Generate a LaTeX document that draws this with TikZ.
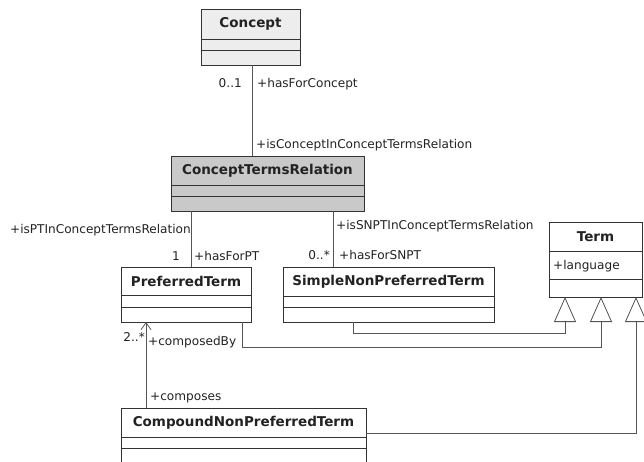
\documentclass[tikz,border=0pt]{standalone}
\usepackage{fontspec}
\setmainfont{DejaVu Sans}
\usetikzlibrary{arrows.meta,calc}
\definecolor{boxc}{HTML}{333333}
\definecolor{linec}{HTML}{555555}
\definecolor{txt}{HTML}{222222}
\definecolor{fillA}{HTML}{EDEDED}
\definecolor{fillB}{HTML}{C9C9C9}
\begin{document}
\begin{tikzpicture}[x=1pt,y=-1pt,
  cls/.style={draw=boxc, line width=0.9pt, anchor=north west, inner sep=0pt, outer sep=0pt},
  ttl/.style={font=\fontsize{13.5}{15}\selectfont\bfseries, text=txt, inner sep=0pt},
  lbl/.style={font=\fontsize{12.1}{13}\selectfont, text=txt, inner sep=0pt},
  sep/.style={draw=boxc, line width=0.9pt},
  conn/.style={draw=linec, line width=0.8pt},
  gen/.style={conn, -{Triangle[open, length=25pt, width=22pt, line width=0.8pt]}},
  nav/.style={conn, -{Straight Barb[length=7pt, width=10pt, line width=0.8pt]}}]
\useasboundingbox (0,0) rectangle (644,461);
\clip (0,0) rectangle (644,461);

% Concept
\node[cls, fill=fillA, minimum width=99pt, minimum height=56pt] (concept) at (201,9) {};
\draw[sep] ($(concept.north west)+(0,30)$) -- ($(concept.north east)+(0,30)$);
\draw[sep] ($(concept.north west)+(0,41)$) -- ($(concept.north east)+(0,41)$);
\node[ttl] (conceptT) at ($(concept.north)+(0,15)$) {Concept};

% ConceptTermsRelation
\node[cls, fill=fillB, minimum width=193pt, minimum height=55pt] (ctr) at (171,156) {};
\draw[sep] ($(ctr.north west)+(0,29)$) -- ($(ctr.north east)+(0,29)$);
\draw[sep] ($(ctr.north west)+(0,40)$) -- ($(ctr.north east)+(0,40)$);
\node[ttl] (ctrT) at ($(ctr.north)+(0,14.5)$) {ConceptTermsRelation};

% PreferredTerm
\node[cls, fill=white, minimum width=130pt, minimum height=55pt] (pt) at (121,267) {};
\draw[sep] ($(pt.north west)+(0,28)$) -- ($(pt.north east)+(0,28)$);
\draw[sep] ($(pt.north west)+(0,40)$) -- ($(pt.north east)+(0,40)$);
\node[ttl] (ptT) at ($(pt.north)+(0,14)$) {PreferredTerm};

% SimpleNonPreferredTerm
\node[cls, fill=white, minimum width=211pt, minimum height=55pt] (snpt) at (283,267) {};
\draw[sep] ($(snpt.north west)+(0,29)$) -- ($(snpt.north east)+(0,29)$);
\draw[sep] ($(snpt.north west)+(0,40)$) -- ($(snpt.north east)+(0,40)$);
\node[ttl] (snptT) at ($(snpt.north)+(0,14.5)$) {SimpleNonPreferredTerm};

% Term
\node[cls, fill=white, minimum width=93pt, minimum height=75pt] (term) at (549,222) {};
\draw[sep] ($(term.north west)+(0,29)$) -- ($(term.north east)+(0,29)$);
\draw[sep] ($(term.north west)+(0,57)$) -- ($(term.north east)+(0,57)$);
\node[ttl] (termT) at ($(term.north)+(0,14.5)$) {Term};
\node[lbl, anchor=base west] (lang) at (553,269) {+language};

% CompoundNonPreferredTerm
\node[cls, fill=white, minimum width=245pt, minimum height=70pt] (cnpt) at (121,408) {};
\draw[sep] ($(cnpt.north west)+(0,29)$) -- ($(cnpt.north east)+(0,29)$);
\draw[sep] ($(cnpt.north west)+(0,40)$) -- ($(cnpt.north east)+(0,40)$);
\node[ttl] (cnptT) at ($(cnpt.north)+(0,14.5)$) {CompoundNonPreferredTerm};

% Associations
\draw[conn] (252,0 |- concept.south) -- (252,0 |- ctr.north);
\draw[conn] (191,0 |- ctr.south) -- (191,0 |- pt.north);
\draw[conn] (333,0 |- ctr.south) -- (333,0 |- snpt.north);
\draw[nav] (146,0 |- cnpt.north) -- (146,0 |- pt.south);

% Generalizations
\coordinate (g1) at (565,333);
\coordinate (g2) at (601,347);
\coordinate (g3) at (636,433);
\draw[gen] (353,0 |- snpt.south) |- (g1) -- (g1 |- term.south);
\draw[gen] (242,0 |- pt.south) |- (g2) -- (g2 |- term.south);
\draw[gen] (g3 -| cnpt.east) -- (g3) -- (g3 |- term.south);

% Labels
\node[lbl, anchor=base east] (l01) at (242,87) {0..1};
\node[lbl, anchor=base west] (lhfc) at (257,87) {+hasForConcept};
\node[lbl, anchor=base west] (licc) at (256,148) {+isConceptInConceptTermsRelation};
\node[lbl, anchor=base east] (lipt) at (191,233) {+isPTInConceptTermsRelation};
\node[lbl, anchor=base east] (l1) at (180,260) {1};
\node[lbl, anchor=base west] (lhfp) at (194,260) {+hasForPT};
\node[lbl, anchor=base west] (lisn) at (336,229) {+isSNPTInConceptTermsRelation};
\node[lbl, anchor=base east] (l0s) at (330,259) {0..*};
\node[lbl, anchor=base west] (lhfs) at (339,259) {+hasForSNPT};
\node[lbl, anchor=base east] (l2s) at (145,341) {2..*};
\node[lbl, anchor=base west] (lcb) at (148,345) {+composedBy};
\node[lbl, anchor=base west] (lcs) at (150,400) {+composes};
\end{tikzpicture}
\end{document}
